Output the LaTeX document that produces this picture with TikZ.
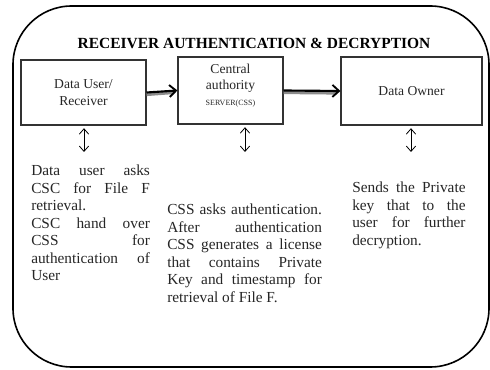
\documentclass[tikz,border=0pt]{standalone}
\usepackage{fontspec}
\setmainfont{Liberation Serif}
\usetikzlibrary{arrows.meta}
\begin{document}
\begin{tikzpicture}[
    x=0.75pt, y=-0.75pt,
    font=\fontsize{10.2}{13.1}\selectfont,
    box/.style={rectangle, draw=black!80, line width=0.8pt, align=center, inner sep=2pt, text=black!85},
    note/.style={anchor=north west, align=justify, inner sep=0pt, text=black!85,
                 font=\fontsize{11.5}{13.1}\selectfont},
    flow/.style={line width=1.6pt, -{Straight Barb[length=5pt, width=9pt, line width=1.4pt]}},
    flowshade/.style={line width=2.4pt, black!45},
    link/.style={line width=0.6pt, {Straight Barb[length=4pt, width=7pt]}-{Straight Barb[length=4pt, width=7pt]}}
]
\useasboundingbox (0,0) rectangle (490,370);

% outer frame and heading
\draw [line width=1.2pt, rounded corners=44pt] (13,6) rectangle (489,367);
\node (title) at (254,43) {\fontsize{11.6}{13}\selectfont\bfseries RECEIVER AUTHENTICATION \& DECRYPTION};

% the three parties
\node (user) [box, minimum width=93.75pt, minimum height=48.75pt] at (83.5,92.5) {Data User/\\Receiver};
\node (csc) [box, minimum width=78.75pt, minimum height=50.25pt, font=\fontsize{10.2}{12}\selectfont] at (230.5,90.5) {Central\\authority\\{\fontsize{6}{7}\selectfont SERVER(CSS)}\\[-4pt]{\fontsize{3}{4}\selectfont ~}};
\node (owner) [box, minimum width=105.75pt, minimum height=51pt] at (411.5,91) {Data Owner};

% flow between the parties
\draw [flowshade] ([yshift=-1.5pt]user.east) -- ([xshift=-3pt, yshift=-1.5pt]csc.west);
\draw [flowshade] ([yshift=-1.5pt]csc.east) -- ([xshift=-3pt, yshift=-1.5pt]owner.west);
\draw [flow] (user.east) -- (csc.west);
\draw [flow] (csc.east) -- (owner.west);

% links down to the notes
\coordinate (userlink) at (84,152);
\coordinate (csclink) at (245,152);
\coordinate (ownerlink) at (411,152);
\draw [link] ([yshift=-2pt]user.south -| userlink) -- (userlink);
\draw [link] ([yshift=-2pt]csc.south -| csclink) -- (csclink);
\draw [link] ([yshift=-2pt]owner.south -| ownerlink) -- (ownerlink);

% notes
\node (usernote) [note, text width=89pt] at (31,165) {Data user asks\linebreak CSC for File F\linebreak retrieval.\\ CSC hand over\linebreak CSS for\linebreak authentication of\linebreak User};
\node (cscnote) [note, text width=116pt] at (167,204) {{\spaceskip=0.15em plus 1em CSS asks authentication.}\linebreak After authentication\linebreak CSS generates a license\linebreak that contains Private\linebreak Key and timestamp for\linebreak retrieval of File F.};
\node (ownernote) [note, text width=85pt] at (352,182) {Sends the Private\linebreak key that to the\linebreak user for further\linebreak decryption.};
\end{tikzpicture}
\end{document}
